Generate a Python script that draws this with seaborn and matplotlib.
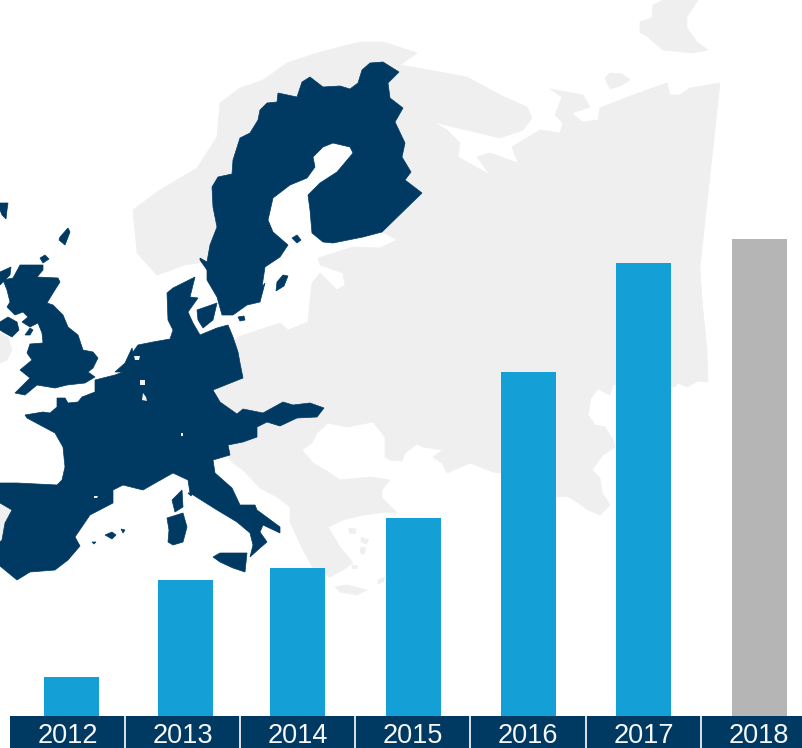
import matplotlib
matplotlib.use("Agg")
import matplotlib.pyplot as plt
from matplotlib.patches import Polygon, Rectangle
import pandas as pd
import seaborn as sns

# ---- chart data ----
years = ["2012", "2013", "2014", "2015", "2016", "2017", "2018"]
values = [39, 136, 148, 198, 344, 453, 477]
bar_colors = ["#159FD7"] * 6 + ["#B5B5B5"]

NAVY = "#003A63"
LAND = "#EFEFEF"
W, H = 803, 748

sns.set_theme(style="white")
plt.rcParams["font.family"] = ["Liberation Sans", "DejaVu Sans"]

# ---- decorative map outlines (image pixel coordinates) ----
gray_shapes = [
    [(157,275),(137,253),(133,210),(157,192),(197,168),(217,137),(220,103),(240,88),(263,80),(287,63),
     (317,53),(360,42),(383,42),(417,53),(400,65),(440,72),(467,77),(500,95),(527,107),(532,118),
     (523,130),(500,138),(433,122),(447,130),(460,143),(458,157),(490,175),(477,157),(490,153),(518,163),(512,147),
     (540,130),(560,133),(563,123),(555,115),(562,97),(550,89),(583,95),(590,107),(572,113),(582,122),
     (598,120),(600,108),(633,95),(667,83),(670,95),(680,95),(690,88),(720,83),(700,267),(702,300),
     (707,350),(708,382),(698,381),(687,387),(678,383),(675,387),(650,380),(613,385),(610,395),(598,389),
     (591,398),(588,415),(595,425),(605,427),(613,440),(615,447),(603,455),(592,470),(600,478),(602,493),
     (610,505),(600,515),(588,510),(577,502),(567,496),(557,497),(530,485),(501,473),(493,472),(470,463),
     (447,473),(442,463),(433,457),(443,450),(423,447),(417,444),(405,453),(402,461),(390,460),(385,457),
     (385,437),(373,422),(347,427),(328,423),(317,433),(312,443),(302,450),(313,463),(325,470),(340,480),
     (370,477),(390,480),(382,490),(382,498),(397,513),(387,512),(363,515),(343,520),(328,527),(340,547),
     (353,563),(343,570),(330,577),(313,568),(303,550),(297,537),(290,522),(290,507),(277,497),(260,488),
     (243,470),(233,463),(227,455),(230,440),(215,400),(225,350),(238,337),(280,323),(288,330),(308,322),
     (312,283),(320,273),(337,290),(345,285),(343,273),(320,265),(318,258),(353,247),(380,248),(397,240),
     (370,225),(385,170),(370,130),(300,120),(240,170),(225,240),(205,262),(185,265)],
    [(698,0),(687,17),(687,28),(697,42),(708,50),(693,53),(663,50),(648,37),(640,32),(640,22),(652,18),(653,5),(663,0)],
    [(605,78),(610,73),(622,74),(630,80),(620,86),(610,89)],
    [(0,333),(8,337),(12,350),(7,360),(0,363)],
    [(335,587),(347,585),(367,590),(357,595),(340,592)],
    [(349,528),(356,529),(355,534),(349,533)],
    [(361,537),(369,540),(366,544),(361,542)],
    [(361,547),(366,548),(364,554),(360,553)],
    [(352,565),(358,566),(356,569),(352,568)],
    [(378,580),(385,577),(383,582),(378,584)],
]

navy_shapes = [
    # Sweden and Finland
    [(200,258),(207,262),(210,245),(217,227),(213,207),(212,187),(218,177),(232,174),(233,160),(240,138),
     (250,133),(258,120),(260,110),(267,103),(277,102),(278,93),(297,97),(302,82),(310,77),(323,87),
     (340,86),(350,89),(358,83),(362,70),(370,63),(383,62),(399,72),(388,83),(390,98),(403,108),
     (395,122),(405,143),(402,157),(411,172),(405,180),(422,193),(382,232),(363,237),(333,243),(323,242),
     (312,233),(310,210),(308,195),(320,183),(337,172),(353,153),(350,147),(333,143),(323,147),(313,157),
     (315,167),(307,178),(290,185),(273,198),(268,220),(273,232),(288,245),(280,257),(265,267),(262,287),
     (265,283),(260,302),(247,305),(233,315),(222,315),(217,297),(207,280),(207,270),(200,260)],
    # Continental block
    [(0,483),(17,483),(57,485),(62,480),(65,467),(63,447),(55,433),(40,425),(27,418),(25,415),
     (43,412),(50,413),(57,407),(57,398),(65,398),(68,403),(78,402),(82,397),(95,392),(95,380),
     (115,375),(123,372),(115,372),(125,363),(132,348),(133,352),(138,345),(153,342),(170,339),(173,330),
     (168,320),(167,293),(173,288),(195,277),(190,297),(198,298),(188,312),(193,323),(200,335),(217,328),
     (228,325),(233,337),(238,352),(240,363),(243,378),(233,382),(213,390),(220,402),(237,414),(243,409),
     (263,413),(283,402),(293,405),(310,403),(324,408),(317,417),(297,418),(280,426),(267,422),(257,427),
     (257,437),(243,442),(228,445),(230,455),(213,460),(215,473),(232,488),(240,505),(255,505),(257,510),
     (280,527),(280,533),(263,525),(260,532),(267,542),(260,548),(250,557),(253,545),(250,533),(237,522),
     (217,510),(190,493),(188,480),(173,473),(157,482),(143,490),(123,485),(113,490),(113,503),(90,515),
     (75,537),(80,546),(68,560),(55,570),(30,572),(17,580),(0,566),(0,542),(2,540),(5,523),(12,510),(0,503)],
    # Great Britain
    [(20,265),(43,265),(43,270),(37,277),(58,278),(60,282),(53,293),(47,303),(53,305),(63,315),
     (68,327),(78,335),(83,350),(93,352),(98,358),(93,368),(88,372),(95,377),(85,383),(67,385),
     (55,388),(37,385),(25,395),(15,393),(30,378),(20,370),(32,360),(27,353),(30,344),(43,343),
     (42,333),(38,323),(30,327),(22,322),(28,317),(23,312),(15,315),(7,307),(10,302),(7,290),(3,280),(13,278)],
    # Islands
    [(197,310),(217,303),(213,320),(203,328),(198,320)],
    [(276,291),(277,282),(283,275),(288,276),(284,286)],
    [(292,238),(297,235),(301,240),(297,243)],
    [(238,317),(244,316),(245,320),(240,321)],
    [(213,557),(220,553),(247,553),(245,572),(233,568),(220,562)],
    [(172,500),(182,490),(183,507),(175,512)],
    [(167,518),(183,513),(187,527),(183,542),(173,545),(168,542),(169,530)],
    [(105,535),(112,532),(116,535),(112,539)],
    [(121,529),(125,530),(123,533)],
    [(92,542),(96,542),(94,544)],
    [(188,493),(193,493),(191,496)],
    [(60,237),(68,228),(70,232),(65,245),(59,240)],
    [(0,203),(8,203),(7,210),(6,219),(2,215),(0,210)],
    [(40,258),(45,255),(49,259),(43,263)],
    [(0,272),(11,267),(10,275),(2,283),(0,285)],
    [(0,322),(8,317),(17,322),(19,330),(12,337),(3,332),(0,330)],
    [(25,335),(30,328),(33,330),(30,335)],
]

# Portugal sits in the notch left by the continental block
portugal = [(0,503),(12,510),(5,523),(2,540),(0,542)]

light_spots = [
    [(134,356),(140,356),(139,360),(135,360)],
    [(140,380),(145,380),(145,385),(140,385)],
    [(143,393),(146,397),(147,401),(142,400)],
    [(181,433),(183,433),(183,436),(181,436)],
    [(94,496),(98,496),(97,498),(94,498)],
]

cell_edges = [125, 240, 355, 470, 586, 701]

fig = plt.figure(figsize=(W / 100, H / 100), dpi=100, facecolor="white")

# Map and label strip layer
bg = fig.add_axes([0, 0, 1, 1], zorder=0)
bg.set_xlim(0, W)
bg.set_ylim(H, 0)
bg.axis("off")
for pts in gray_shapes + [portugal]:
    bg.add_patch(Polygon(pts, closed=True, fc=LAND, ec=LAND, lw=0.5, zorder=1))
for pts in navy_shapes:
    bg.add_patch(Polygon(pts, closed=True, fc=NAVY, ec=NAVY, lw=0.5, zorder=2))
for pts in light_spots:
    bg.add_patch(Polygon(pts, closed=True, fc="#F2F2F2", ec="none", zorder=3))
bg.add_patch(Rectangle((10, 716), W - 10, 32, fc=NAVY, ec="none", zorder=4))
bg.vlines(cell_edges, 716, 748, color="white", lw=1.2, zorder=5)

# Bars layer
ax = fig.add_axes([10 / W, (H - 716) / H, (W - 10) / W, 716 / H], zorder=1)
ax.patch.set_alpha(0)
df = pd.DataFrame({"year": years, "value": values})
step = 115.2
sns.barplot(data=df, x="year", y="value", hue="year", palette=bar_colors, order=years,
            hue_order=years, legend=False, saturation=1, width=55 / step,
            linewidth=0, ax=ax)
ax.set_xlim(-(67.5 - 10) / step, (W - 67.5) / step)
ax.set_ylim(0, 716)
ax.set_xlabel("")
ax.set_ylabel("")
ax.set_yticks([])
sns.despine(ax=ax, left=True, bottom=True, top=True, right=True)
ax.tick_params(axis="x", length=0, pad=5, labelsize=19.5, labelcolor="#F7F7F7")

# Small hand-layout offsets of the bars from their label cells (px)
for patch, dx in zip(ax.patches, [4, 3, -0.4, 0.5, 0.5, 0, 0.5]):
    patch.set_x(patch.get_x() + dx / step)

fig.savefig("out.png", dpi=100, facecolor="white")
